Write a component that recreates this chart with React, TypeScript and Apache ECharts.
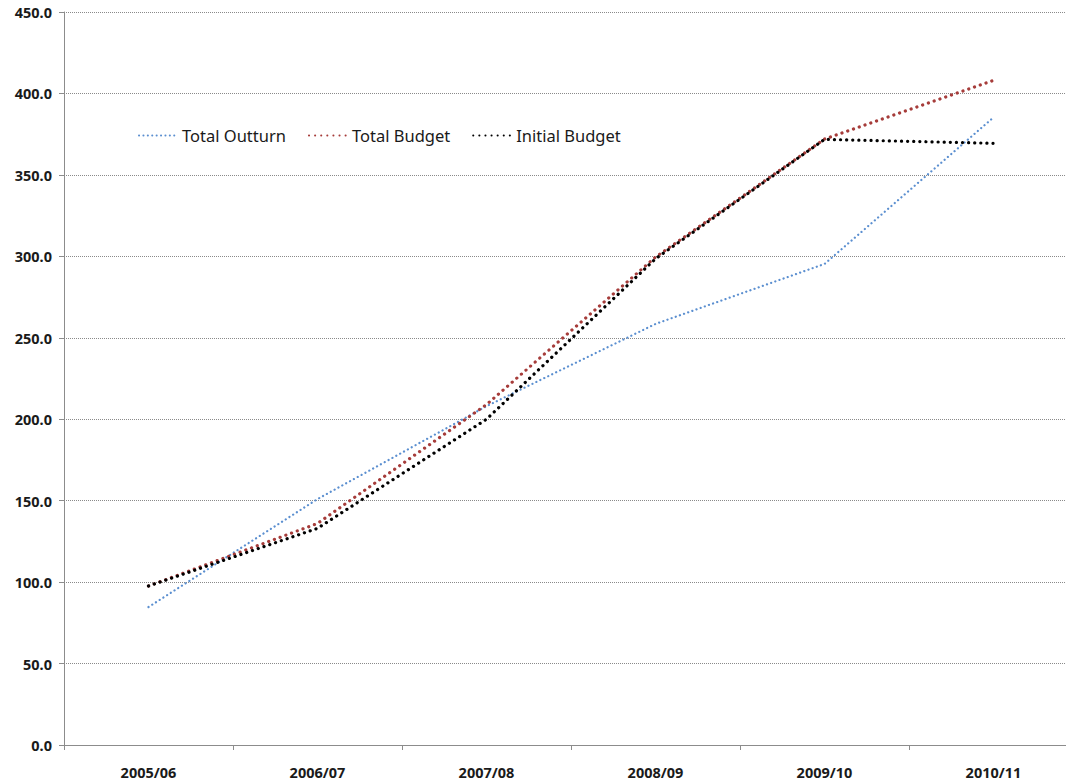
import React, { useEffect, useRef } from "react";
import * as echarts from "echarts";

const years = ["2005/06", "2006/07", "2007/08", "2008/09", "2009/10", "2010/11"];
const totalOutturn = [84.7, 151, 208, 258.5, 295.3, 385.3];
const totalBudget = [97.6, 136, 209, 299.5, 372, 408];
const initialBudget = [97.6, 133, 200, 298.5, 371.8, 369.4];

const FONT = "'Noto Sans', 'Open Sans', sans-serif";

export default function App() {
  const ref = useRef<HTMLDivElement>(null);

  useEffect(() => {
    if (!ref.current) return;
    const chart = echarts.init(ref.current, undefined, { renderer: "svg" });

    const dotted = (color: string, width: number, gap: number) => ({
      color,
      width,
      type: [0.1, gap] as number[],
      cap: "round" as const,
    });

    chart.setOption({
      animation: false,
      backgroundColor: "#ffffff",
      textStyle: { fontFamily: FONT },
      legend: {
        left: 133,
        top: 122,
        itemWidth: 38,
        itemHeight: 14,
        itemGap: 22,
        itemStyle: { opacity: 0 },
        textStyle: { fontFamily: FONT, fontSize: 16.5, color: "#1a1a1a" },
        data: ["Total Outturn", "Total Budget", "Initial Budget"],
      },
      grid: {
        left: 64,
        top: 12,
        width: 1014,
        height: 733,
        outerBoundsMode: "none",
        containLabel: false,
      },
      xAxis: {
        type: "category",
        data: years,
        boundaryGap: true,
        axisLine: { lineStyle: { color: "#8c8c8c", width: 1 } },
        axisTick: { show: true, length: 5, lineStyle: { color: "#8c8c8c" } },
        axisLabel: {
          margin: 19,
          fontFamily: FONT,
          fontSize: 14.5,
          fontWeight: "bold",
          color: "#1a1a1a",
        },
        splitLine: { show: false },
      },
      yAxis: {
        type: "value",
        min: 0,
        max: 450,
        interval: 50,
        axisLine: { show: true, lineStyle: { color: "#8c8c8c", width: 1 } },
        axisTick: { show: true, length: 5, lineStyle: { color: "#8c8c8c" } },
        axisLabel: {
          margin: 12,
          fontFamily: FONT,
          fontSize: 14.5,
          fontWeight: "bold",
          color: "#1a1a1a",
          formatter: (v: number) => v.toFixed(1),
        },
        splitLine: {
          show: true,
          lineStyle: { color: "#8a8a8a", width: 1, type: [1, 1] },
        },
      },
      series: [
        {
          name: "Total Outturn",
          type: "line",
          data: totalOutturn,
          showSymbol: false,
          symbol: "none",
          color: "#5b8fd0",
          lineStyle: dotted("#5b8fd0", 2.2, 4.3),
        },
        {
          name: "Total Budget",
          type: "line",
          data: totalBudget,
          showSymbol: false,
          symbol: "none",
          color: "#a63c3a",
          lineStyle: dotted("#a63c3a", 3.2, 6),
        },
        {
          name: "Initial Budget",
          type: "line",
          data: initialBudget,
          showSymbol: false,
          symbol: "none",
          color: "#000000",
          lineStyle: dotted("#000000", 3.2, 6),
        },
      ],
    });

    return () => chart.dispose();
  }, []);

  return (
    <div
      ref={ref}
      style={{ position: "absolute", left: 0, top: 0, width: 1066, height: 783 }}
    />
  );
}
